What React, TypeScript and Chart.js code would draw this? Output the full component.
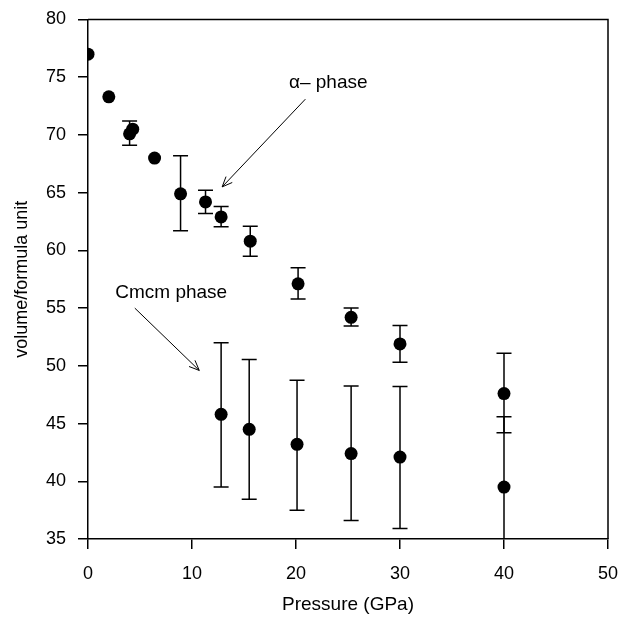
import React, { useEffect, useRef } from "react";
import { Chart, registerables } from "chart.js";

Chart.register(...registerables);

// ---- data ----
const alphaPressure = [0, 2.0, 4.0, 4.3, 6.4, 8.9, 11.3, 12.8, 15.6, 20.2, 25.3, 30.0, 40.0];
const alphaVolume = [77.0, 73.3, 70.1, 70.5, 68.0, 64.9, 64.2, 62.9, 60.8, 57.1, 54.2, 51.9, 47.6];
const alphaLow = [null, null, 69.1, null, null, 61.7, 63.2, 62.05, 59.5, 55.8, 53.45, 50.3, 44.2];
const alphaHigh = [null, null, 71.2, null, null, 68.2, 65.2, 63.8, 62.1, 58.5, 55.0, 53.5, 51.1];

const cmcmPressure = [12.8, 15.5, 20.1, 25.3, 30.0, 40.0];
const cmcmVolume = [45.8, 44.5, 43.2, 42.4, 42.1, 39.5];
const cmcmLow = [39.5, 38.45, 37.5, 36.6, 35.9, 33.5];
const cmcmHigh = [52.0, 50.55, 48.75, 48.25, 48.2, 45.6];

const xTicksMin = 0;
const xTicksMax = 50;
const xStep = 10;
const yTicksMin = 35;
const yTicksMax = 80;
const yStep = 5;

const xTitle = "Pressure (GPa)";
const yTitle = "volume/formula unit";

// annotations in data coordinates
const annotations = [
  { text: "\u03b1\u2013 phase", tx: 23.1, ty: 74.5, ax0: 20.9, ay0: 73.1, ax1: 12.9, ay1: 65.5 },
  { text: "Cmcm phase", tx: 8.0, ty: 56.3, ax0: 4.5, ay0: 55.0, ax1: 10.7, ay1: 49.6 },
];

const FONT = "'Liberation Sans', Arial, sans-serif";

const errorBarPlugin = {
  id: "errorBars",
  beforeDatasetsDraw(chart: any) {
    const { ctx, chartArea, scales } = chart;
    const xs = scales.x;
    const ys = scales.y;
    ctx.save();
    ctx.beginPath();
    ctx.rect(chartArea.left, chartArea.top, chartArea.right - chartArea.left, chartArea.bottom - chartArea.top);
    ctx.clip();
    ctx.strokeStyle = "#000";
    ctx.lineWidth = 1.5;
    const cap = 7.5;
    const draw = (px: number[], lo: (number | null)[], hi: (number | null)[]) => {
      px.forEach((p, i) => {
        const l = lo[i];
        const h = hi[i];
        if (l == null || h == null) return;
        const x = xs.getPixelForValue(p);
        const yl = ys.getPixelForValue(l);
        const yh = ys.getPixelForValue(h);
        ctx.beginPath();
        ctx.moveTo(x, yl);
        ctx.lineTo(x, yh);
        ctx.moveTo(x - cap, yl);
        ctx.lineTo(x + cap, yl);
        ctx.moveTo(x - cap, yh);
        ctx.lineTo(x + cap, yh);
        ctx.stroke();
      });
    };
    draw(alphaPressure, alphaLow, alphaHigh);
    draw(cmcmPressure, cmcmLow, cmcmHigh);
    ctx.restore();
  },
};

const framePlugin = {
  id: "frame",
  afterDraw(chart: any) {
    const { ctx, chartArea, scales } = chart;
    ctx.save();
    ctx.strokeStyle = "#000";
    ctx.lineWidth = 1.5;
    ctx.beginPath();
    ctx.moveTo(chartArea.left, chartArea.top);
    ctx.lineTo(chartArea.right, chartArea.top);
    ctx.lineTo(chartArea.right, chartArea.bottom);
    ctx.stroke();

    // annotations
    ctx.fillStyle = "#000";
    ctx.font = `19px ${FONT}`;
    ctx.textAlign = "center";
    ctx.textBaseline = "middle";
    ctx.lineWidth = 1;
    annotations.forEach((a) => {
      const tx = scales.x.getPixelForValue(a.tx);
      const ty = scales.y.getPixelForValue(a.ty);
      ctx.fillText(a.text, tx, ty);
      const x0 = scales.x.getPixelForValue(a.ax0);
      const y0 = scales.y.getPixelForValue(a.ay0);
      const x1 = scales.x.getPixelForValue(a.ax1);
      const y1 = scales.y.getPixelForValue(a.ay1);
      const ang = Math.atan2(y1 - y0, x1 - x0);
      const hl = 11;
      const spread = 0.4;
      ctx.beginPath();
      ctx.moveTo(x0, y0);
      ctx.lineTo(x1, y1);
      ctx.moveTo(x1 - hl * Math.cos(ang - spread), y1 - hl * Math.sin(ang - spread));
      ctx.lineTo(x1, y1);
      ctx.lineTo(x1 - hl * Math.cos(ang + spread), y1 - hl * Math.sin(ang + spread));
      ctx.stroke();
    });
    ctx.restore();
  },
};

export default function App() {
  const ref = useRef<HTMLCanvasElement | null>(null);
  useEffect(() => {
    if (!ref.current) return;
    const pointStyle = {
      backgroundColor: "#000",
      borderColor: "#000",
      borderWidth: 0,
      pointRadius: 6.5,
      pointHoverRadius: 6.5,
      showLine: false,
    };
    const chart = new Chart(ref.current, {
      type: "scatter",
      data: {
        datasets: [
          {
            label: "alpha phase",
            data: alphaPressure.map((x, i) => ({ x, y: alphaVolume[i] })),
            ...pointStyle,
          },
          {
            label: "Cmcm phase",
            data: cmcmPressure.map((x, i) => ({ x, y: cmcmVolume[i] })),
            ...pointStyle,
          },
        ],
      },
      options: {
        animation: false,
        responsive: true,
        maintainAspectRatio: false,
        layout: { padding: 0 },
        plugins: { legend: { display: false }, tooltip: { enabled: false } },
        scales: {
          x: {
            type: "linear",
            min: xTicksMin,
            max: xTicksMax,
            ticks: { stepSize: xStep, color: "#000", font: { family: FONT, size: 18 }, padding: 14 },
            grid: { drawOnChartArea: false, drawTicks: true, tickLength: 10, color: "#000", lineWidth: 1.5 },
            border: { display: true, color: "#000", width: 1.5 },
            title: { display: true, text: xTitle, color: "#000", font: { family: FONT, size: 19 }, padding: { top: 0, bottom: 1 } },
            afterFit: (s: any) => {
              s.height = 78;
              s.paddingLeft = 0;
              s.paddingRight = 13;
            },
          },
          y: {
            type: "linear",
            min: yTicksMin,
            max: yTicksMax,
            ticks: { stepSize: yStep, color: "#000", font: { family: FONT, size: 18 }, padding: 12 },
            grid: { drawOnChartArea: false, drawTicks: true, tickLength: 10, color: "#000", lineWidth: 1.5 },
            border: { display: true, color: "#000", width: 1.5 },
            title: { display: true, text: yTitle, color: "#000", font: { family: FONT, size: 18 }, padding: { top: 11, bottom: 0 } },
            afterFit: (s: any) => {
              s.width = 88;
              s.paddingTop = 19.5;
              s.paddingBottom = 0;
            },
          },
        },
      },
      plugins: [errorBarPlugin, framePlugin],
    } as any);
    return () => chart.destroy();
  }, []);
  return (
    <div style={{ position: "absolute", left: 0, top: 0, width: 621, height: 617, background: "#fff" }}>
      <canvas ref={ref} />
    </div>
  );
}
